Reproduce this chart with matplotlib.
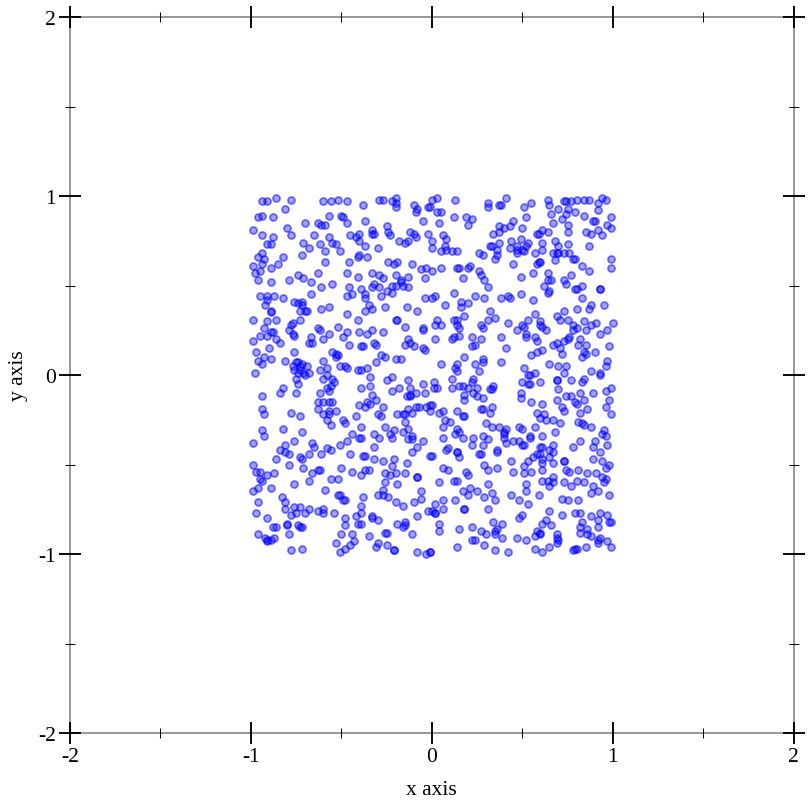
import numpy as np
import matplotlib
matplotlib.use("Agg")
import matplotlib.pyplot as plt
from matplotlib.ticker import FixedLocator

upper_left = [(-.86,.99),(-.91,.97),(-.94,.97),(-.78,.98),(-.81,.93),(-.60,.97),(-.56,.97),(-.52,.98),(-.47,.97),(-.38,.95),(-.29,.98),(-.27,.98),(-.22,.97),(-.20,.99),(-.20,.96),(-.20,.94),(-.10,.95),(-.08,.93),(-.09,.91),(-.02,.94),
(-.96,.88),(-.94,.89),(-.88,.88),(-.57,.89),(-.50,.89),(-.49,.88),(-.47,.85),(-.37,.86),(-.05,.86),(-.70,.85),(-.63,.85),(-.61,.84),(-.59,.84),(-.25,.83),
(-.99,.81),(-.80,.82),(-.78,.78),(-.94,.78),(-.88,.77),(-.65,.78),(-.45,.78),(-.42,.77),(-.40,.79),(-.40,.75),(-.33,.81),(-.33,.79),(-.32,.79),(-.24,.80),(-.23,.78),(-.12,.80),(-.10,.79),(-.09,.77),(-.13,.75),(-.15,.74),(-.18,.75),(-.02,.79),(-.57,.77),(-.55,.74),(-.53,.73),(-.91,.73),(-.89,.73),(-.71,.74),(-.68,.71),(-.62,.73),(-.37,.72),(-.30,.71),
(-.59,.69),(-.51,.69),(-.94,.68),(-.96,.66),(-.93,.65),(-.82,.66),(-.72,.67),(-.40,.67),(-.41,.66),(-.36,.66),(-.59,.63),(-.46,.63),(-.24,.63),(-.21,.62),(-.19,.63),(-.11,.62),(-.94,.62),(-.85,.62),(-.99,.61),(-.89,.60),(-.06,.59),(-.03,.60),
(-.95,.58),(-.98,.57),(-.96,.53),(-.74,.56),(-.71,.54),(-.67,.52),(-.79,.53),(-.63,.57),(-.47,.57),(-.41,.55),(-.33,.57),(-.29,.56),(-.27,.54),(-.20,.56),(-.13,.55),(-.04,.54),(-.89,.52),(-.55,.51),(-.17,.53),(-.17,.52),(-.61,.49),(-.46,.49),(-.39,.48),(-.33,.49),(-.32,.51),(-.29,.49),(-.22,.50),(-.20,.50),(-.16,.50),(-.13,.49),(-.25,.47),(-.22,.46),(-.67,.45),(-.44,.45),(-.47,.44),(-.37,.45),(-.37,.43),(-.28,.44),(-.95,.44),(-.91,.44),(-.91,.42),(-.87,.44),(-.82,.43),(-.04,.43),(-.76,.41),(-.72,.41),(-.74,.40),(-.72,.39),(-.92,.39),(-.35,.39),(-.26,.38),(-.14,.38),(-.08,.36),(-.61,.37),(-.57,.38),(-.73,.36),(-.70,.36),(-.69,.36),(-.37,.36),(-.33,.37),(-.89,.36),(-.89,.35),(-.47,.34),(-.99,.31),(-.91,.30),(-.86,.31),(-.73,.31),(-.41,.31),(-.77,.29),(-.78,.28),(-.20,.31),(-.19,.31),
(-.93,.26),(-.52,.27),(-.15,.27),(-.63,.26),(-.62,.25),(-.79,.25),(-.77,.23),(-.76,.22),(-.05,.26),(-.05,.25),(-.89,.24),(-.88,.24),(-.47,.24),(-.40,.24),(-.36,.23),(-.33,.25),(-.27,.24),(-.95,.22),(-.91,.22),(-.86,.20),(-.84,.18),(-.99,.19),(-.67,.21),(-.57,.23),(-.49,.21),(-.60,.20),(-.68,.18),(-.66,.18),(-.46,.17),(-.32,.18),(-.31,.17),(-.39,.16),(-.38,.16),(-.13,.20),(-.15,.17),(-.12,.18),(-.10,.16),(-.05,.15),(-.04,.14),(-.90,.15),(-.97,.13),(-.76,.13),(-.55,.13),(-.53,.12),(-.53,.10),(-.52,.11),(-.28,.11),(-.26,.10),(-.20,.09),(-.17,.09),(-.93,.10),(-.96,.08),(-.94,.06),(-.89,.09),(-.81,.08),(-.60,.08),(-.31,.07),(-.51,.05),(-.48,.05),(-.47,.04),(-.41,.03),(-.39,.03),(-.36,.04),(-.58,.04),(-.62,.03),(-.75,.07),(-.74,.07),(-.72,.06),(-.77,.05),(-.73,.05),(-.69,.05),(-.76,.03),(-.73,.03),(-.74,.01),(-.71,.01),(-.68,.01),(-.98,.01)]

upper_right = [(.03,.99),(.00,.98),(.13,.98),(.31,.96),(.31,.94),(.37,.95),(.38,.95),(.41,.99),(.51,.94),(.55,.96),(.64,.98),(.65,.95),(.70,.93),(.73,.97),(.74,.97),(.77,.97),(.80,.98),(.84,.98),(.87,.98),(.94,.99),(.96,.98),(.92,.96),(.92,.92),(.75,.93),(.79,.91),(-.01,.94),(.03,.91),(.05,.91),(.12,.88),(.19,.88),(.22,.87),(.20,.84),(.04,.85),(.52,.88),(.66,.90),(.74,.90),(.72,.87),(.67,.85),(.84,.89),(.89,.86),(.90,.86),(.99,.88),(.75,.84),(.97,.84),(.99,.82),(.92,.81),(.45,.86),(.43,.83),(.40,.82),(.37,.83),(.37,.80),(.34,.79),(.50,.82),(.75,.80),(.85,.80),(.88,.79),(.94,.78),(.06,.78),(.08,.76),(.00,.75),(.00,.71),(.58,.79),(.59,.79),(.61,.81),(.64,.80),(.44,.75),(.49,.76),(.37,.74),(.32,.72),(.33,.72),(.43,.71),(.47,.72),(.52,.72),(.53,.74),(.61,.74),(.61,.70),(.68,.75),(.70,.72),(.75,.73),(.87,.72),(.07,.72),(.08,.70),(.05,.69),(.11,.69),(.14,.69),(.47,.70),(.50,.70),(.51,.69),(.47,.68),(.36,.70),(.26,.68),(.28,.67),(.36,.67),(.35,.65),(.57,.68),(.67,.68),(.69,.68),(.70,.68),(.73,.68),(.76,.68),(.78,.65),(.79,.65),(.68,.64),(.99,.65),(.99,.60),(.83,.61),(.87,.58),(.45,.62),(.58,.62),(.59,.63),(.60,.63),(.00,.58),(.05,.60),(.14,.60),(.15,.60),(.20,.60),(.21,.61),(.26,.58),(.27,.56),(.29,.53),(.17,.54),(.31,.49),(.49,.55),(.56,.57),(.64,.57),(.77,.56),(.73,.53),(.74,.51),(.64,.53),(.66,.53),(.62,.50),(.83,.50),(.79,.48),(.80,.48),(.93,.48),(.93,.48),(.64,.46),(.65,.47),(.12,.46),(.00,.43),(.02,.44),(.24,.44),(.29,.43),(.38,.43),(.42,.44),(.43,.43),(.49,.45),(.56,.42),(.83,.43),(.07,.39),(.16,.41),(.20,.40),(.16,.38),(.32,.36),(.88,.39),(.87,.37),(.95,.39),(.73,.36),(.80,.37),(.57,.34),(.18,.33),(.69,.33),(.71,.31),(.75,.31),(.03,.31),(.12,.31),(.14,.31),(.14,.28),(.15,.26),(.02,.28),(.05,.28),(.31,.31),(.35,.32),(.27,.28),(.28,.26),(.42,.29),(.53,.31),(.50,.28),(.51,.27),(.47,.25),(.60,.30),(.60,.28),(.61,.27),(.63,.25),(.78,.28),(.80,.26),(.78,.25),(.84,.30),(.85,.25),(.88,.28),(.91,.29),(1.00,.29),(.97,.25),(.93,.23),(.15,.22),(.22,.21),(.27,.20),(.38,.21),(.52,.23),(.52,.21),(.57,.21),(.58,.19),(.02,.20),(.11,.20),(.12,.21),(.22,.16),(.24,.17),(.41,.15),(.67,.17),(.69,.18),(.73,.19),(.75,.20),(.76,.21),(.81,.17),(.82,.20),(.85,.17),(.98,.16),(.71,.15),(.72,.12),(.55,.11),(.58,.13),(.61,.14),(.84,.13),(.85,.12),(.83,.10),(.90,.13),(.18,.10),(.28,.09),(.28,.07),(.24,.06),(.05,.06),(.14,.06),(.38,.07),(.97,.08),(.65,.06),(.70,.05),(.74,.05),(.96,.05),(.51,.04),(.73,.01),(.88,.02),(.93,.01),(.26,.02),(.57,.01),(.53,.00),(.14,.02),(.13,.04)]

lower_left = [(-.70,.00),(-.75,-.02),(-.74,-.05),(-.60,-.02),(-.58,-.00),(-.55,-.02),(-.54,-.04),(-.58,-.07),(-.57,-.09),(-.56,-.06),(-.62,-.10),(-.75,-.10),(-.84,-.10),(-.82,-.07),(-.94,-.12),(-.39,-.07),(-.34,-.06),(-.34,-.01),(-.25,-.03),(-.22,-.01),(-.13,-.03),(-.05,-.05),(-.22,-.09),(-.18,-.07),(-.12,-.07),(-.09,-.10),(-.04,-.10),(-.14,-.12),(-.12,-.11),(-.12,-.12),(-.33,-.11),(-.31,-.14),(-.63,-.15),(-.60,-.15),(-.57,-.15),(-.55,-.15),(-.40,-.17),(-.37,-.18),(-.36,-.15),(-.34,-.16),(-.27,-.18),(-.01,-.17),(-.03,-.18),(-.07,-.18),(-.09,-.18),(-.13,-.19),(-.94,-.19),(-.63,-.19),(-.53,-.20),(-.57,-.20),(-.60,-.22),(-.57,-.22),(-.78,-.21),(-.73,-.23),(-.93,-.22),(-.42,-.23),(-.30,-.22),(-.28,-.23),(-.19,-.22),(-.16,-.22),(-.15,-.22),(-.11,-.21),(-.58,-.25),(-.49,-.25),(-.48,-.27),(-.56,-.28),(-.15,-.26),(-.39,-.29),(-.26,-.29),(-.13,-.30),(-.82,-.30),(-.94,-.31),(-.93,-.34),(-.72,-.32),(-.44,-.33),(-.32,-.33),(-.23,-.33),(-.21,-.31),(-.22,-.35),(-.16,-.32),(-.29,-.35),(-.40,-.35),(-.39,-.35),(-.11,-.34),(-.13,-.36),(-.11,-.36),(-.76,-.37),(-.99,-.38),(-.05,-.37),(-.51,-.39),(-.47,-.37),(-.66,-.38),(-.65,-.40),(-.81,-.39),(-.32,-.40),(-.08,-.40),(-.11,-.43),(-.58,-.41),(-.56,-.42),(-.84,-.42),(-.81,-.43),(-.79,-.44),(-.68,-.44),(-.61,-.44),(-.45,-.44),(-.38,-.45),(-.37,-.45),(-.01,-.45),(-.73,-.46),(-.72,-.47),(-.86,-.47),(-.32,-.47),(-.27,-.48),(-.21,-.47),(-.14,-.49),(-.99,-.50),(-.79,-.50),(-.71,-.52),(-.50,-.52),(-.22,-.51),(-.37,-.53),(-.35,-.53),(-.62,-.53),(-.63,-.53),(-.44,-.54),(-.97,-.54),(-.95,-.54),(-.87,-.55),(-.91,-.56),(-.66,-.55),(-.39,-.56),(-.26,-.55),(-.23,-.56),(-.20,-.55),(-.15,-.55),(-.08,-.57),(-.08,-.57),(-.95,-.58),(-.94,-.59),(-.68,-.59),(-.56,-.58),(-.52,-.58),(-.76,-.61),(-.26,-.60),(-.19,-.61),(-.96,-.63),(-.99,-.65),(-.89,-.63),(-.59,-.64),(-.27,-.64),(-.06,-.65),(-.52,-.67),(-.51,-.67),(-.30,-.67),(-.27,-.67),(-.24,-.68),(-.83,-.68),(-.38,-.68),(-.06,-.69),(-.49,-.70),(-.48,-.70),(-.81,-.71),(-.96,-.71),(-.20,-.71),(-.10,-.71),(-.16,-.73),(-.76,-.74),(-.73,-.74),(-.81,-.75),(-.39,-.73),(-.68,-.75),(-.63,-.76),(-.60,-.75),(-.60,-.77),(-.54,-.77),(-.97,-.77),(-.75,-.77),(-.70,-.77),(-.78,-.78),(-.39,-.77),(-.02,-.76),(-.33,-.79),(-.33,-.80),(-.30,-.81),(-.42,-.79),(-.48,-.80),(-.08,-.79),(-.91,-.80),(-.80,-.83),(-.80,-.84),(-.15,-.82),(-.19,-.83),(-.15,-.84),(-.16,-.85),(-.41,-.83),(-.39,-.83),(-.48,-.84),(-.74,-.84),(-.73,-.85),(-.72,-.85),(-.88,-.85),(-.86,-.85),(-.96,-.89),(-.79,-.89),(-.50,-.89),(-.44,-.89),(-.35,-.90),(-.26,-.88),(-.25,-.88),(-.11,-.89),(-.92,-.91),(-.91,-.92),(-.89,-.92),(-.87,-.91),(-.91,-.93),(-.43,-.93),(-.53,-.94),(-.45,-.95),(-.30,-.94),(-.25,-.95),(-.31,-.96),(-.48,-.97),(-.21,-.98),(-.21,-.98),(-.72,-.97),(-.78,-.98),(-.51,-.99),(-.08,-.99),(-.03,-1.00),(-.01,-.99)]

lower_right = [(.01,-.04),(.11,-.02),(.01,-.07),(.03,-.07),(.11,-.07),(.15,-.06),(.17,-.06),(.20,-.07),(.22,-.04),(.23,-.02),(.25,-.07),(.23,-.10),(.25,-.12),(.28,-.13),(.18,-.11),(.18,-.14),(.32,-.08),(.33,-.08),(.34,-.06),(.50,-.04),(.53,-.05),(.54,-.05),(.60,-.04),(.54,-.00),(.69,-.03),(.69,-.03),(.77,-.03),(.84,-.02),(.83,-.04),(.93,.00),(.70,-.08),(.49,-.10),(.49,-.13),(.82,-.10),(.89,-.10),(.96,-.09),(.99,-.07),(.74,-.12),(.77,-.12),(.79,-.15),(.80,-.16),(.84,-.14),(.98,-.14),(.69,-.14),(.55,-.15),(.61,-.16),(-.00,-.17),(-.01,-.20),(.06,-.20),(.04,-.21),(.14,-.20),(.27,-.19),(.28,-.19),(.33,-.18),(.32,-.21),(.72,-.18),(.73,-.20),(.86,-.19),(.96,-.18),(.17,-.23),(.18,-.23),(.58,-.21),(.60,-.24),(.62,-.22),(.63,-.25),(.67,-.25),(.82,-.21),(.99,-.22),(.07,-.25),(.10,-.26),(.71,-.27),(.81,-.26),(.83,-.27),(.84,-.28),(.88,-.29),(.30,-.27),(.33,-.29),(.37,-.29),(.41,-.30),(.48,-.29),(.50,-.30),(.57,-.29),(.06,-.29),(.14,-.30),(.13,-.33),(.15,-.32),(.17,-.35),(.40,-.32),(.40,-.33),(.68,-.32),(.95,-.31),(.94,-.33),(.96,-.34),(.06,-.35),(.23,-.35),(.28,-.34),(.31,-.36),(.40,-.35),(.54,-.34),(.54,-.35),(.61,-.34),(.41,-.38),(.45,-.37),(.48,-.37),(.50,-.39),(.51,-.39),(.82,-.37),(.90,-.37),(.97,-.39),(.22,-.39),(.28,-.39),(.78,-.40),(.89,-.40),(.60,-.40),(.61,-.40),(.67,-.39),(.08,-.42),(.09,-.41),(.14,-.43),(.14,-.43),(.26,-.44),(.27,-.44),(.36,-.42),(.36,-.43),(.15,-.46),(-.00,-.45),(.65,-.42),(.67,-.43),(.65,-.46),(.60,-.44),(.58,-.44),(.56,-.46),(.53,-.48),(.44,-.48),(.51,-.51),(.61,-.47),(.61,-.49),(.67,-.49),(.73,-.48),(.73,-.48),(.93,-.43),(.89,-.47),(.94,-.48),(.98,-.50),(.96,-.52),(.29,-.50),(.31,-.53),(.36,-.52),(.06,-.52),(.09,-.53),(.45,-.54),(.51,-.55),(.55,-.54),(.61,-.53),(.74,-.53),(.76,-.54),(.81,-.53),(.86,-.55),(.91,-.55),(.19,-.54),(.20,-.56),(.94,-.57),(.96,-.58),(.95,-.60),(.67,-.57),(.61,-.59),(.64,-.59),(.67,-.60),(.65,-.62),(.73,-.60),(.77,-.62),(.80,-.59),(.84,-.60),(.89,-.62),(.04,-.60),(.12,-.59),(.14,-.59),(.31,-.61),(.52,-.61),(.52,-.65),(.21,-.63),(.17,-.65),(.25,-.65),(.20,-.67),(.33,-.66),(.29,-.68),(.35,-.70),(.13,-.70),(.44,-.67),(.48,-.70),(.59,-.67),(.88,-.66),(.92,-.65),(.98,-.67),(.72,-.69),(.75,-.70),(.81,-.70),(.53,-.72),(.06,-.70),(.02,-.72),(.06,-.75),(.02,-.77),(.02,-.77),(-.00,-.76),(.18,-.75),(.18,-.75),(.31,-.75),(.65,-.76),(.79,-.77),(.82,-.77),(.93,-.77),(.97,-.78),(.72,-.78),(.50,-.78),(.48,-.80),(.88,-.79),(.63,-.81),(.61,-.83),(.66,-.84),(.92,-.81),(.98,-.82),(.99,-.82),(.34,-.82),(.39,-.83),(.83,-.82),(.04,-.83),(.04,-.87),(.15,-.86),(.22,-.85),(.27,-.87),(.35,-.87),(.36,-.86),(.30,-.89),(.35,-.89),(.39,-.91),(.22,-.92),(.24,-.92),(.47,-.91),(.52,-.92),(.57,-.90),(.58,-.87),(.60,-.88),(.60,-.89),(.82,-.85),(.86,-.86),(.92,-.85),(.82,-.88),(.86,-.89),(.88,-.90),(.69,-.89),(.69,-.91),(.70,-.92),(.69,-.94),(.92,-.92),(.93,-.91),(.92,-.94),(.97,-.93),(.99,-.96),(.29,-.95),(.14,-.96),(-.01,-.99),(.35,-.98),(.42,-.99),(.57,-.97),(.61,-.99),(.65,-.96),(.78,-.98),(.79,-.97),(.80,-.97),(.85,-.96)]

major_ticks = [-2, -1, 0, 1, 2]
minor_ticks = [-1.5, -0.5, 0.5, 1.5]
tick_labels = ["-2", "-1", "0", "1", "2"]

plt.rcParams['font.family'] = ['Liberation Serif', 'DejaVu Serif']
plt.rcParams['axes.unicode_minus'] = False

W = 812
fig = plt.figure(figsize=(8.12, 8.12), dpi=100)
ax = fig.add_axes([70/W, (W-734)/W, (793.7-70)/W, (734-18)/W])

pts = np.array(upper_left + upper_right + lower_left + lower_right)
ax.scatter(pts[:, 0], pts[:, 1], s=25, facecolors=(0, 0, 1, 0.36),
           edgecolors=(0, 0, 1, 0.52), linewidths=1.3, zorder=3)

ax.set_xlim(-2, 2)
ax.set_ylim(-2, 2)
for axis in (ax.xaxis, ax.yaxis):
    axis.set_major_locator(FixedLocator(major_ticks))
    axis.set_minor_locator(FixedLocator(minor_ticks))
ax.set_xticklabels(tick_labels)
ax.set_yticklabels(tick_labels)
ax.tick_params(which='major', direction='inout', length=15.5, width=1.35, color='black',
               top=True, right=True, labelsize=15.5, pad=2.5)
ax.tick_params(which='minor', direction='inout', length=7.5, width=0.75, color='black',
               top=True, right=True)
for sp in ax.spines.values():
    sp.set_color('#808080')
    sp.set_linewidth(1.15)
    sp.set_zorder(1)
ax.set_xlabel("x axis", fontsize=15.5, labelpad=10)
ax.set_ylabel("y axis", fontsize=15.5, labelpad=7)
fig.savefig("out.png", dpi=100, facecolor='white')
